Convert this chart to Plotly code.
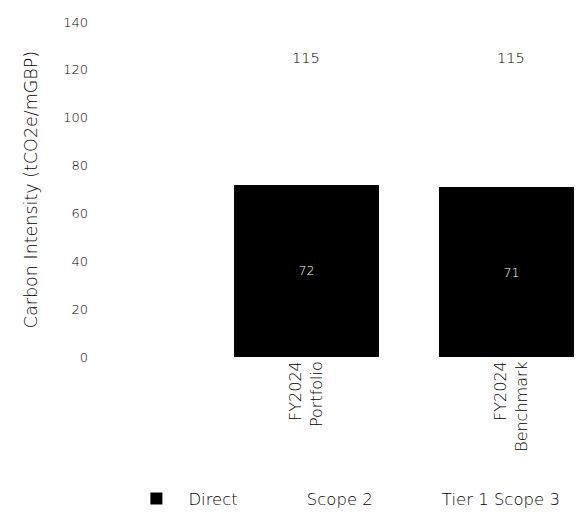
import plotly.graph_objects as go

categories = ["FY2024<br>Portfolio", "FY2024<br>Benchmark"]
direct = [72, 71]
scope2 = [4, 4]
tier1_scope3 = [39, 40]
totals = [d + s2 + s3 for d, s2, s3 in zip(direct, scope2, tier1_scope3)]
y_ticks = [0, 20, 40, 60, 80, 100, 120, 140]

FONT = "DejaVu Sans"
TXT = "#000000"
W = 200
fig = go.Figure()
fig.add_trace(go.Bar(name="Direct", x=categories, y=direct, marker_color="black",
                     marker_line_width=0,
                     text=[str(v) for v in direct], textposition="inside",
                     insidetextanchor="middle",
                     textfont=dict(color="white", size=12.5, family=FONT, weight=W)))
fig.add_trace(go.Bar(name="Scope 2", x=categories, y=scope2, marker_color="white",
                     marker_line_width=0))
fig.add_trace(go.Bar(name="Tier 1 Scope 3", x=categories, y=tier1_scope3, marker_color="white",
                     marker_line_width=0))

for c, t in zip(categories, totals):
    fig.add_annotation(x=c, y=t, text=str(t), showarrow=False, yshift=24,
                       font=dict(size=14.5, color=TXT, family=FONT, weight=W))

fig.update_layout(
    width=582, height=514,
    barmode="stack", bargap=0.293,
    plot_bgcolor="white", paper_bgcolor="white",
    font=dict(family=FONT, size=13, color=TXT, weight=W),
    margin=dict(l=85, r=6, t=14, b=165, autoexpand=False),
    xaxis=dict(range=[-1.041, 1.354], tickangle=-90, showgrid=False, showline=False,
               zeroline=False, ticks="", tickfont=dict(size=16, weight=W), automargin=False),
    yaxis=dict(range=[0, 140], tickvals=y_ticks, showgrid=False, showline=False,
               zeroline=False, ticks="", ticklabelstandoff=4, automargin=False,
               tickfont=dict(size=13, weight=W),
               title=dict(text="Carbon Intensity (tCO2e/mGBP)",
                          font=dict(size=17.5, weight=W), standoff=21)),
    legend=dict(orientation="h", xref="container", yref="container",
                x=0.2, xanchor="left", y=0.045, yanchor="middle",
                font=dict(size=16.5, weight=W), itemwidth=54, traceorder="normal"),
    showlegend=True,
)

fig.write_html("out.html")
